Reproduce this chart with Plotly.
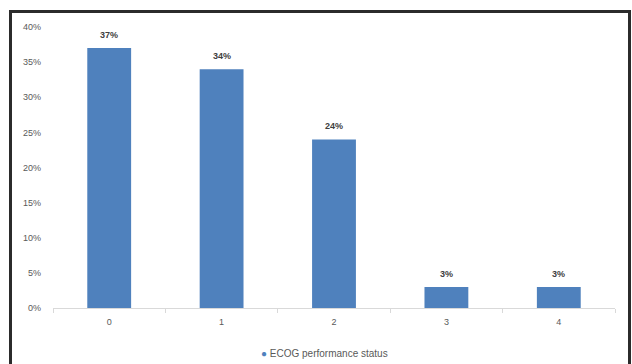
import plotly.graph_objects as go

# ECOG performance status distribution (share of patients, %)
categories = ["0", "1", "2", "3", "4"]
shares = [37, 34, 24, 3, 3]
series_name = "ECOG performance status"
y_ticks = [0, 5, 10, 15, 20, 25, 30, 35, 40]

W, H = 632, 364
ML, MR, MT, MB = 53, 17, 27, 56
pw, ph = W - ML - MR, H - MT - MB

def px_to_paper_x(px):
    return (px - ML) / pw

def px_to_paper_y(py):
    return (H - MB - py) / ph

bar_color = "#4F81BD"
font_family = "Liberation Sans, Arial, sans-serif"

fig = go.Figure()
fig.add_trace(go.Bar(
    x=categories,
    y=shares,
    marker=dict(color=bar_color, line=dict(width=0)),
    showlegend=False,
    name=series_name,
))

# value labels sitting above each bar
value_labels = [
    dict(
        x=c, y=v, xref="x", yref="y",
        text=f"<b>{v}%</b>",
        showarrow=False,
        xanchor="center", yanchor="bottom",
        yshift=6,
        font=dict(size=9, color="#404040", family=font_family),
    )
    for c, v in zip(categories, shares)
]

fig.update_layout(
    width=W, height=H,
    margin=dict(l=ML, r=MR, t=MT, b=MB, pad=0, autoexpand=False),
    paper_bgcolor="white",
    plot_bgcolor="white",
    bargap=0.61,
    showlegend=False,
    font=dict(family=font_family, size=9, color="#595959"),
    xaxis=dict(
        type="category",
        showgrid=False,
        showline=True, linecolor="#D9D9D9", linewidth=1,
        ticks="outside", tickson="boundaries", ticklen=4, tickcolor="#D9D9D9",
        ticklabelstandoff=5,
        tickfont=dict(size=9, color="#595959"),
        zeroline=False,
    ),
    yaxis=dict(
        range=[0, 40],
        tickvals=y_ticks,
        ticktext=[f"{v}%" for v in y_ticks],
        showgrid=False,
        showline=False,
        zeroline=False,
        ticks="",
        ticklabelstandoff=11,
        tickfont=dict(size=9, color="#595959"),
    ),
    annotations=value_labels + [
        # series key below the plot
        dict(
            text=f'<span style="color:{bar_color}">●</span> {series_name}',
            xref="paper", yref="paper",
            x=px_to_paper_x(324), y=px_to_paper_y(353),
            xanchor="center", yanchor="middle",
            showarrow=False,
            font=dict(size=10, color="#595959", family=font_family),
        )
    ],
    shapes=[
        # dark frame around the chart (left, top and right edges)
        dict(type="line", xref="paper", yref="paper",
             x0=px_to_paper_x(10.5), x1=px_to_paper_x(10.5),
             y0=px_to_paper_y(11.5), y1=px_to_paper_y(372),
             line=dict(color="#2B2B2B", width=3)),
        dict(type="line", xref="paper", yref="paper",
             x0=px_to_paper_x(9), x1=px_to_paper_x(631),
             y0=px_to_paper_y(11.5), y1=px_to_paper_y(11.5),
             line=dict(color="#2B2B2B", width=3)),
        dict(type="line", xref="paper", yref="paper",
             x0=px_to_paper_x(629.5), x1=px_to_paper_x(629.5),
             y0=px_to_paper_y(11.5), y1=px_to_paper_y(372),
             line=dict(color="#2B2B2B", width=3)),
    ],
)

fig.write_html("out.html")
